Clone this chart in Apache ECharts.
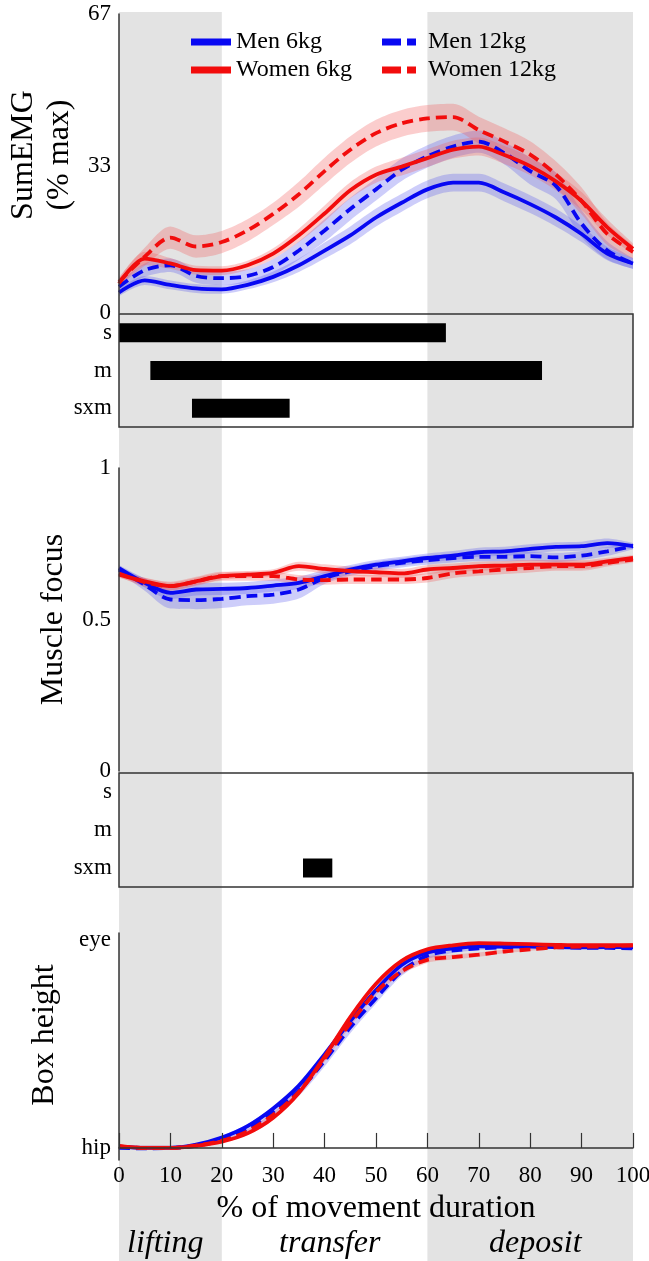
<!DOCTYPE html>
<html>
<head>
<meta charset="utf-8">
<script src="https://cdn.jsdelivr.net/npm/echarts@6/dist/echarts.min.js"></script>
<style>
  html, body { margin: 0; padding: 0; background: #fff; }
  #chart { width: 649px; height: 1261px; }
</style>
</head>
<body>
<div id="chart"></div>
<script>
// % of movement duration (sample points)
const pct = [0, 5, 10, 15, 20, 25, 30, 35, 40, 45, 50, 55, 60, 65, 70, 75, 80, 85, 90, 95, 100]

// phases
const phaseBands = [[0, 20], [60, 100]]
const phaseNames = ['lifting', 'transfer', 'deposit']
const phasePos = [9, 41, 81]

// SumEMG (% max)
const emgMen6 = [4.6, 7.3, 6.3, 5.5, 5.3, 6.3, 8.1, 10.7, 14.0, 17.4, 21.4, 24.7, 27.7, 29.2, 29.2, 27.0, 24.4, 21.4, 17.7, 13.3, 11.1]
const emgMen12 = [5.9, 9.6, 10.7, 8.3, 7.8, 8.3, 10.3, 14.0, 18.5, 23.3, 27.7, 32.1, 35.1, 37.3, 38.4, 35.8, 31.8, 28.5, 20.0, 14.0, 11.1]
const emgWomen6 = [6.6, 12.2, 11.1, 9.6, 9.5, 10.7, 13.3, 17.4, 22.3, 27.5, 31.0, 32.8, 34.7, 36.6, 37.3, 35.4, 32.9, 29.5, 25.1, 19.2, 14.4]
const emgWomen12 = [7.0, 12.6, 16.9, 14.9, 15.9, 18.5, 22.2, 26.6, 31.8, 36.6, 40.3, 42.5, 43.6, 43.9, 41.0, 38.4, 35.5, 31.0, 25.1, 17.7, 13.7]
const emgSdMen6 = [0.8, 1.0, 1.0, 1.0, 1.0, 1.0, 1.2, 1.5, 1.8, 2.0, 2.0, 2.0, 2.0, 2.0, 2.0, 2.0, 2.0, 2.0, 1.8, 1.5, 1.2]
const emgSdMen12 = [0.8, 1.5, 1.5, 1.5, 1.5, 1.5, 1.8, 2.0, 2.5, 2.5, 2.5, 2.5, 2.5, 2.5, 2.5, 2.5, 3.0, 3.0, 3.0, 2.0, 1.2]
const emgSdWomen6 = [1.0, 1.5, 1.2, 1.0, 1.0, 1.0, 1.2, 1.5, 1.8, 1.8, 1.8, 2.0, 2.0, 2.0, 2.0, 2.0, 2.0, 2.0, 2.0, 1.8, 1.2]
const emgSdWomen12 = [1.0, 2.0, 2.5, 2.5, 2.5, 2.5, 2.5, 2.8, 3.0, 3.0, 3.0, 3.0, 3.0, 3.0, 3.0, 3.0, 3.0, 3.0, 3.0, 2.5, 1.5]
const emgTicks = [0, 33, 67]

// Muscle focus
const focusMen6 = [0.670, 0.621, 0.588, 0.599, 0.601, 0.604, 0.612, 0.621, 0.643, 0.665, 0.681, 0.692, 0.703, 0.711, 0.722, 0.725, 0.733, 0.740, 0.742, 0.752, 0.742]
const focusMen12 = [0.665, 0.615, 0.566, 0.564, 0.568, 0.577, 0.582, 0.599, 0.637, 0.659, 0.676, 0.687, 0.696, 0.703, 0.707, 0.707, 0.709, 0.705, 0.711, 0.725, 0.742]
const focusWomen6 = [0.648, 0.626, 0.610, 0.626, 0.643, 0.648, 0.654, 0.676, 0.667, 0.660, 0.656, 0.652, 0.665, 0.670, 0.676, 0.678, 0.681, 0.681, 0.681, 0.692, 0.703]
const focusWomen12 = [0.652, 0.623, 0.610, 0.626, 0.643, 0.643, 0.643, 0.632, 0.630, 0.632, 0.632, 0.632, 0.637, 0.652, 0.659, 0.665, 0.670, 0.676, 0.676, 0.687, 0.698]
const focusSdMen6 = [0.010, 0.015, 0.020, 0.020, 0.020, 0.020, 0.020, 0.020, 0.020, 0.015, 0.015, 0.015, 0.015, 0.015, 0.015, 0.015, 0.015, 0.015, 0.015, 0.015, 0.010]
const focusSdMen12 = [0.010, 0.020, 0.030, 0.030, 0.030, 0.030, 0.030, 0.030, 0.020, 0.015, 0.015, 0.015, 0.015, 0.015, 0.015, 0.015, 0.015, 0.015, 0.015, 0.015, 0.010]
const focusSdWomen6 = [0.010, 0.012, 0.012, 0.012, 0.012, 0.012, 0.012, 0.015, 0.015, 0.015, 0.015, 0.015, 0.015, 0.015, 0.015, 0.015, 0.015, 0.015, 0.015, 0.012, 0.010]
const focusSdWomen12 = [0.010, 0.015, 0.015, 0.015, 0.015, 0.015, 0.015, 0.015, 0.015, 0.015, 0.015, 0.015, 0.015, 0.015, 0.015, 0.015, 0.015, 0.015, 0.015, 0.012, 0.010]
const focusTicks = [0, 0.5, 1]

// Box height (hip = 0, eye = 1)
const heightMen6 = [0.006, 0.0, 0.0, 0.016, 0.05, 0.105, 0.19, 0.30, 0.45, 0.61, 0.76, 0.88, 0.94, 0.96, 0.97, 0.968, 0.968, 0.966, 0.965, 0.966, 0.966]
const heightMen12 = [0.0, -0.002, 0.0, 0.01, 0.042, 0.095, 0.175, 0.275, 0.42, 0.58, 0.72, 0.85, 0.925, 0.95, 0.96, 0.965, 0.968, 0.966, 0.963, 0.962, 0.96]
const heightWomen6 = [0.01, 0.0, 0.0, 0.01, 0.03, 0.07, 0.145, 0.265, 0.44, 0.63, 0.79, 0.90, 0.955, 0.975, 0.985, 0.983, 0.98, 0.977, 0.975, 0.975, 0.975]
const heightWomen12 = [0.008, 0.0, 0.0, 0.012, 0.035, 0.08, 0.16, 0.27, 0.43, 0.60, 0.75, 0.85, 0.905, 0.918, 0.93, 0.945, 0.955, 0.965, 0.968, 0.97, 0.975]
const heightSdMen6 = [0.005, 0.005, 0.005, 0.005, 0.008, 0.01, 0.012, 0.015, 0.015, 0.015, 0.012, 0.01, 0.008, 0.006, 0.005, 0.005, 0.005, 0.005, 0.005, 0.005, 0.005]
const heightSdMen12 = [0.005, 0.005, 0.005, 0.008, 0.012, 0.018, 0.022, 0.025, 0.028, 0.028, 0.025, 0.022, 0.018, 0.012, 0.008, 0.006, 0.005, 0.005, 0.005, 0.005, 0.005]
const heightSdWomen6 = [0.005, 0.005, 0.005, 0.005, 0.006, 0.008, 0.01, 0.012, 0.012, 0.012, 0.01, 0.008, 0.006, 0.005, 0.005, 0.005, 0.005, 0.005, 0.005, 0.005, 0.005]
const heightSdWomen12 = [0.005, 0.005, 0.005, 0.006, 0.008, 0.01, 0.012, 0.015, 0.015, 0.015, 0.015, 0.015, 0.015, 0.012, 0.01, 0.008, 0.006, 0.005, 0.005, 0.005, 0.005]
const heightTicks = [0, 0.5, 1]
const heightTickNames = { 0: 'hip', 1: 'eye' }

// significance (start / end in % of movement)
const sigRows = ['s', 'm', 'sxm']
const sigEmgStart = [0, 6.1, 14.2]
const sigEmgEnd = [63.6, 82.3, 33.2]
const sigFocusStart = [null, null, 35.8]
const sigFocusEnd = [null, null, 41.5]

const FONT = "'Liberation Serif', 'Times New Roman', serif"
const BLUE = '#0808f2'
const RED = '#f20c0c'
const groups = {
  'Men 6kg': { color: BLUE, band: 'rgba(90, 90, 240, 0.30)', dash: 'solid' },
  'Men 12kg': { color: BLUE, band: 'rgba(90, 90, 240, 0.30)', dash: [11, 6] },
  'Women 6kg': { color: RED, band: 'rgba(242, 90, 90, 0.30)', dash: 'solid' },
  'Women 12kg': { color: RED, band: 'rgba(242, 90, 90, 0.30)', dash: [11, 6] }
}

const panels = [
  { x: 1, y: 1, mean: { 'Men 6kg': emgMen6, 'Men 12kg': emgMen12, 'Women 6kg': emgWomen6, 'Women 12kg': emgWomen12 },
    sd: { 'Men 6kg': emgSdMen6, 'Men 12kg': emgSdMen12, 'Women 6kg': emgSdWomen6, 'Women 12kg': emgSdWomen12 } },
  { x: 3, y: 4, mean: { 'Men 6kg': focusMen6, 'Men 12kg': focusMen12, 'Women 6kg': focusWomen6, 'Women 12kg': focusWomen12 },
    sd: { 'Men 6kg': focusSdMen6, 'Men 12kg': focusSdMen12, 'Women 6kg': focusSdWomen6, 'Women 12kg': focusSdWomen12 } },
  { x: 5, y: 7, mean: { 'Men 6kg': heightMen6, 'Men 12kg': heightMen12, 'Women 6kg': heightWomen6, 'Women 12kg': heightWomen12 },
    sd: { 'Men 6kg': heightSdMen6, 'Men 12kg': heightSdMen12, 'Women 6kg': heightSdWomen6, 'Women 12kg': heightSdWomen12 } }
]

const series = []

// gray phase background
series.push({
  type: 'line', xAxisIndex: 0, yAxisIndex: 0, data: [], silent: true, z: 0,
  markArea: {
    silent: true,
    itemStyle: { color: '#e3e3e3' },
    data: phaseBands.map(b => [{ xAxis: b[0] }, { xAxis: b[1] }])
  }
})

panels.forEach((p, pi) => {
  Object.keys(groups).forEach(name => {
    const g = groups[name]
    const mean = p.mean[name]
    const sd = p.sd[name]
    const stack = 'band' + pi + name
    series.push({
      type: 'line', xAxisIndex: p.x, yAxisIndex: p.y, stack, smooth: 0.3, symbol: 'none',
      silent: true, z: 1, lineStyle: { opacity: 0 },
      data: mean.map((v, i) => v - sd[i])
    })
    series.push({
      type: 'line', xAxisIndex: p.x, yAxisIndex: p.y, stack, smooth: 0.3, symbol: 'none',
      silent: true, z: 1, lineStyle: { opacity: 0 },
      areaStyle: { color: g.band, opacity: 1 },
      data: sd.map(v => 2 * v)
    })
  })
  Object.keys(groups).forEach(name => {
    const g = groups[name]
    series.push({
      name, type: 'line', xAxisIndex: p.x, yAxisIndex: p.y, smooth: 0.3, symbol: 'none',
      color: g.color, z: 3,
      lineStyle: { color: g.color, width: 3.8, type: g.dash },
      data: p.mean[name]
    })
  })
})

// significance bars
const sigSets = [
  { x: 2, y: 2, start: sigEmgStart, end: sigEmgEnd },
  { x: 4, y: 5, start: sigFocusStart, end: sigFocusEnd }
]
sigSets.forEach((s, si) => {
  series.push({
    type: 'bar', xAxisIndex: s.x, yAxisIndex: s.y, stack: 'sig' + si, barWidth: 19, silent: true,
    itemStyle: { color: 'transparent' }, data: s.start
  })
  series.push({
    type: 'bar', xAxisIndex: s.x, yAxisIndex: s.y, stack: 'sig' + si, barWidth: 19, silent: true,
    itemStyle: { color: '#000' },
    data: s.end.map((e, i) => (e == null ? null : e - s.start[i]))
  })
})

const axisLineStyle = { show: true, lineStyle: { color: '#333', width: 1.5 } }
const tickStyle = { inside: true, length: 5, lineStyle: { color: '#333', width: 1.2 } }
const labelStyle = { color: '#000', fontFamily: FONT, fontSize: 23, margin: 8 }
const nameStyle = { color: '#000', fontFamily: FONT, fontSize: 32, lineHeight: 36 }
const L = 119
const R = 16

const grid = [
  { left: L, right: R, top: 12, bottom: 0 },
  { left: L, right: R, top: 14, height: 299 },
  { left: L, right: R, top: 314, height: 113, show: true, borderColor: '#333', borderWidth: 1.5, backgroundColor: 'transparent', z: 5 },
  { left: L, right: R, top: 468, height: 303 },
  { left: L, right: R, top: 773, height: 114, show: true, borderColor: '#333', borderWidth: 1.5, backgroundColor: 'transparent', z: 5 },
  { left: L, right: R, top: 933, height: 227 }
].map(g => Object.assign({ outerBoundsMode: 'none' }, g))

const cats = pct.map(String)

const xAxis = [
  {
    gridIndex: 0, type: 'value', min: 0, max: 100, z: 5,
    axisLine: { show: false }, axisTick: { show: false }, splitLine: { show: false },
    axisLabel: {
      inside: true, margin: 1, customValues: phasePos,
      formatter: v => phaseNames[phasePos.indexOf(v)],
      color: '#000', fontFamily: FONT, fontSize: 32, fontStyle: 'italic'
    }
  },
  { gridIndex: 1, type: 'category', data: cats, boundaryGap: false, show: false },
  { gridIndex: 2, type: 'value', min: 0, max: 100, show: false },
  { gridIndex: 3, type: 'category', data: cats, boundaryGap: false, show: false },
  { gridIndex: 4, type: 'value', min: 0, max: 100, show: false },
  {
    gridIndex: 5, type: 'category', data: cats, boundaryGap: false, z: 5,
    axisLine: axisLineStyle,
    axisTick: { inside: true, length: 15, interval: 1, lineStyle: { color: '#333', width: 1.2 } },
    axisLabel: Object.assign({}, labelStyle, { interval: 1, margin: 4 }),
    name: '% of movement duration', nameLocation: 'middle', nameGap: 31,
    nameTextStyle: nameStyle
  }
]

const sigY = (gi, pos) => ({
  gridIndex: gi, type: 'category', data: sigRows, inverse: true, position: pos, z: 5,
  axisLine: { show: false },
  axisTick: Object.assign({ alignWithLabel: true }, tickStyle),
  axisLabel: Object.assign({}, labelStyle, { show: pos === 'left', margin: 7 }),
  splitLine: { show: false }
})

const yAxis = [
  { gridIndex: 0, type: 'value', min: 0, max: 1, show: false },
  {
    gridIndex: 1, type: 'value', min: 0, max: 67, z: 5,
    axisLine: axisLineStyle,
    axisTick: Object.assign({ customValues: emgTicks }, tickStyle),
    axisLabel: Object.assign({ customValues: emgTicks }, labelStyle),
    splitLine: { show: false },
    name: 'SumEMG\n(% max)', nameLocation: 'middle', nameRotate: 90, nameGap: 35,
    nameTextStyle: Object.assign({ padding: [0, 0, 0, 17] }, nameStyle)
  },
  sigY(2, 'left'),
  sigY(2, 'right'),
  {
    gridIndex: 3, type: 'value', min: 0, max: 1, z: 5,
    axisLine: axisLineStyle,
    axisTick: Object.assign({ customValues: focusTicks }, tickStyle),
    axisLabel: Object.assign({ customValues: focusTicks }, labelStyle),
    splitLine: { show: false },
    name: 'Muscle focus', nameLocation: 'middle', nameRotate: 90, nameGap: 45,
    nameTextStyle: nameStyle
  },
  sigY(4, 'left'),
  sigY(4, 'right'),
  {
    gridIndex: 5, type: 'value', min: -0.058, max: 1.034, z: 5,
    axisLine: axisLineStyle,
    axisTick: Object.assign({ customValues: heightTicks }, tickStyle),
    axisLabel: Object.assign({ customValues: [0, 1], formatter: v => heightTickNames[v] }, labelStyle),
    splitLine: { show: false },
    name: 'Box height', nameLocation: 'middle', nameRotate: 90, nameGap: 56,
    nameTextStyle: Object.assign({ padding: [0, 0, 0, 23] }, nameStyle)
  }
]

// legend icons: one solid bar, two dashes
const solidIcon = 'path://M0 0H40V7H0Z'
const dashIcon = 'path://M0 0H19V7H0Z M25 0H34V7H25Z'
const legendBase = {
  orient: 'vertical', top: 30, padding: 0, itemHeight: 7, itemGap: 4,
  selectedMode: false,
  textStyle: { color: '#000', fontFamily: FONT, fontSize: 24, lineHeight: 24 }
}

const chart = echarts.init(document.getElementById('chart'), null, { renderer: 'canvas' })
chart.setOption({
  animation: false,
  backgroundColor: '#fff',
  grid,
  xAxis,
  yAxis,
  legend: [
    Object.assign({}, legendBase, {
      left: 191, itemWidth: 40, icon: solidIcon,
      data: ['Men 6kg', 'Women 6kg']
    }),
    Object.assign({}, legendBase, {
      left: 382, itemWidth: 34, icon: dashIcon,
      textStyle: Object.assign({}, legendBase.textStyle, { padding: [0, 0, 0, 7] }),
      data: ['Men 12kg', 'Women 12kg']
    })
  ],
  series
})
</script>
</body>
</html>
